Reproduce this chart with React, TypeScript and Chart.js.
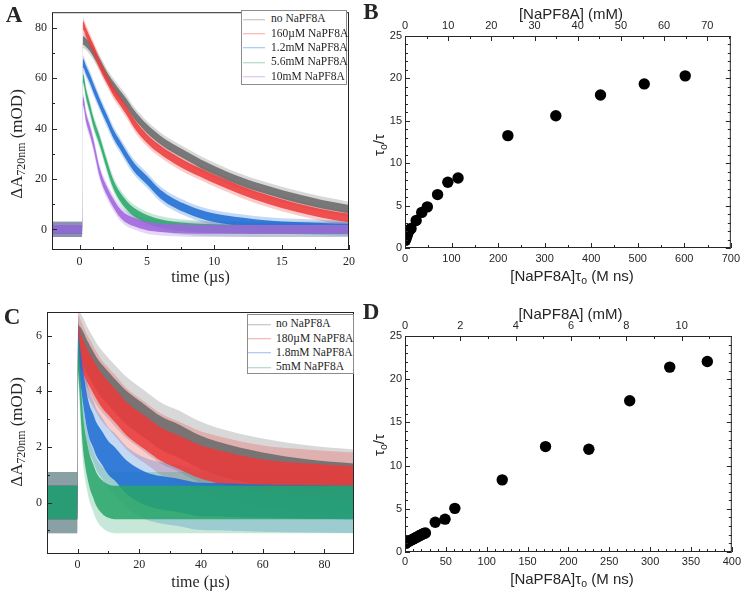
import React, { useEffect, useRef } from 'react';
import { Chart, registerables } from 'chart.js';

Chart.register(...registerables);

// ---------------- Panel A : transient absorption decays (mOD vs µs) ----------------
const A_TIME = [-2.1, -1, 0, 0.2, 0.25, 0.5, 0.75, 1, 1.5, 2, 2.5, 3, 3.5, 4, 5, 6, 7, 8, 9, 10, 12, 14, 16, 18, 20];
const A_NONE = [0, 0, 0, 0, 75, 74, 72.5, 70.5, 66, 61, 57, 53.5, 50, 46, 40, 35.5, 32, 29, 26, 23.5, 19, 15.5, 12.5, 10, 8];
const A_160UM = [0, 0, 0, 0, 81, 78, 75, 72, 65.5, 60, 55, 51, 47, 42.5, 36, 31.5, 28, 25, 22.5, 20, 15.5, 11.8, 8.8, 6.3, 4.5];
const A_1_2MM = [0, 0, 0, 0, 66, 63, 60, 56.5, 50, 44, 38, 33.5, 29, 25, 19.5, 14, 10.5, 8, 6, 4.6, 3, 1.8, 1.2, 0.8, 0.5];
const A_5_6MM = [0, 0, 0, 0, 60, 53.5, 48.5, 43, 35, 26, 18, 13, 9.5, 7, 4, 2.3, 1.3, 0.8, 0.5, 0.3, 0.1, 0, 0, 0, 0];
const A_10MM = [0, 0, 0, 0, 51, 44, 39.5, 34.5, 22.5, 15.5, 10.5, 6.5, 4.2, 3, 1.3, 0.6, 0.3, 0.1, 0, 0, 0, 0, 0, 0, 0];
const A_LABELS = ['no NaPF8A', '160µM NaPF8A', '1.2mM NaPF8A', '5.6mM NaPF8A', '10mM NaPF8A'];
const A_NOISE_INNER = 1.7; // half-width of dense noise band (mOD)
const A_NOISE_OUTER = 3.0; // half-width of noise spikes (mOD)
const A_X_TICKS = [0, 5, 10, 15, 20];
const A_Y_TICKS = [0, 20, 40, 60, 80];

// ---------------- Panel B : Stern-Volmer type plot ----------------
const B_X = [1, 2.5, 4, 5.5, 7, 9, 11, 13, 24, 36, 48, 70, 92, 114, 221, 324, 420, 514, 602];
const B_Y = [0.9, 1.2, 1.4, 1.7, 1.9, 2.1, 2.2, 2.3, 3.25, 4.2, 4.85, 6.3, 7.75, 8.25, 13.25, 15.6, 18.05, 19.35, 20.3];
const B_X_TICKS = [0, 100, 200, 300, 400, 500, 600, 700];
const B_TOP_TICKS = [0, 10, 20, 30, 40, 50, 60, 70];
const B_Y_TICKS = [0, 5, 10, 15, 20, 25];

// ---------------- Panel C : transient absorption decays ----------------
const C_TIME = [-10, -5, -0.1, 0.2, 0.6, 1, 1.5, 2, 3, 4, 5, 6, 8, 10, 12, 16, 22, 27, 33, 39, 45, 60, 75, 90];
const C_NONE = [0, 0, 0, 5.8, 5.75, 5.7, 5.6, 5.5, 5.25, 5.05, 4.85, 4.65, 4.35, 4.1, 3.85, 3.4, 2.9, 2.5, 2.2, 1.85, 1.6, 1.2, 0.95, 0.8];
const C_180UM = [0, 0, 0, 5.7, 5.6, 5.45, 5.35, 5.2, 4.95, 4.75, 4.55, 4.35, 4.0, 3.75, 3.5, 3.0, 2.5, 2.1, 1.8, 1.5, 1.3, 0.95, 0.8, 0.7];
const C_1_8MM = [0, 0, 0, 5.6, 5.2, 4.85, 4.4, 4.0, 3.3, 2.85, 2.6, 2.3, 1.95, 1.6, 1.4, 0.9, 0.5, 0.35, 0.25, 0.12, 0.1, 0.05, 0.02, 0];
const C_5MM = [0, 0, 0, 5.4, 4.7, 3.8, 2.9, 2.3, 1.6, 1.1, 0.8, 0.5, 0.2, 0.05, 0, 0, 0, 0, 0, 0, 0, 0, 0, 0];
const C_LABELS = ['no NaPF8A', '180µM NaPF8A', '1.8mM NaPF8A', '5mM NaPF8A'];
const C_NOISE_INNER = 0.6;
const C_NOISE_OUTER = 1.1;
const C_X_TICKS = [0, 20, 40, 60, 80];
const C_Y_TICKS = [0, 2, 4, 6];

// ---------------- Panel D ----------------
const D_X = [1, 3, 5, 7, 9, 11, 13, 15, 17, 19, 21, 23, 25, 37, 49, 61, 119, 172, 225, 275, 324, 370];
const D_Y = [1.0, 1.15, 1.25, 1.35, 1.45, 1.55, 1.65, 1.75, 1.85, 1.95, 2.05, 2.15, 2.2, 3.45, 3.8, 5.05, 8.35, 12.2, 11.9, 17.5, 21.4, 22.05];
const D_X_TICKS = [0, 50, 100, 150, 200, 250, 300, 350, 400];
const D_TOP_TICKS = [0, 2, 4, 6, 8, 10];
const D_Y_TICKS = [0, 5, 10, 15, 20, 25];

// colours
const GRAY = [105, 105, 105];
const RED = [238, 58, 58];
const BLUE = [28, 108, 212];
const GREEN = [40, 165, 105];
const PURPLE = [160, 100, 222];
const rgba = (c: number[], a: number) => `rgba(${c[0]},${c[1]},${c[2]},${a})`;

const SERIF = '"Liberation Serif", "Times New Roman", serif';
const SANS = '"Liberation Sans", Arial, sans-serif';
const INK = '#262626';

function bandSets(time: number[], mean: number[], col: number[], rank: number, inner: number, outer: number) {
  const mk = (off: number, fill: any, bg: string, order: number) => ({
    type: 'line',
    data: time.map((t, i) => ({ x: t, y: mean[i] + off })),
    borderColor: 'rgba(0,0,0,0)',
    borderWidth: 0,
    pointRadius: 0,
    fill,
    backgroundColor: bg,
    order,
    cubicInterpolationMode: 'monotone',
  });
  return [
    mk(outer, false, 'rgba(0,0,0,0)', 20 + rank),
    mk(-outer, '-1', rgba(col, 0.26), 20 + rank),
    mk(inner, false, 'rgba(0,0,0,0)', rank),
    mk(-inner, '-1', rgba(col, 0.86), rank),
  ];
}

type TickSpec = { axis: string; side: 'bottom' | 'top' | 'left' | 'right'; major: number[]; minor: number };

function makeTicksPlugin(specs: TickSpec[]) {
  return {
    id: 'innerTicks',
    afterDraw(chart: any) {
      const { ctx, chartArea: a } = chart;
      ctx.save();
      ctx.strokeStyle = INK;
      ctx.lineWidth = 1;
      ctx.beginPath();
      for (const s of specs) {
        const sc = chart.scales[s.axis];
        if (!sc) continue;
        const list: [number, number][] = s.major.map((v) => [v, 5] as [number, number]);
        const start = Math.ceil(sc.min / s.minor - 1e-9) * s.minor;
        for (let v = start; v <= sc.max + 1e-9; v += s.minor) {
          if (!s.major.some((m) => Math.abs(m - v) < 1e-6)) list.push([v, 3]);
        }
        for (const [v, len] of list) {
          if (v < sc.min - 1e-9 || v > sc.max + 1e-9) continue;
          const p = Math.round(sc.getPixelForValue(v)) + 0.5;
          if (s.side === 'bottom') { ctx.moveTo(p, a.bottom); ctx.lineTo(p, a.bottom - len); }
          if (s.side === 'top') { ctx.moveTo(p, a.top); ctx.lineTo(p, a.top + len); }
          if (s.side === 'left') { ctx.moveTo(a.left, p); ctx.lineTo(a.left + len, p); }
          if (s.side === 'right') { ctx.moveTo(a.right, p); ctx.lineTo(a.right - len, p); }
        }
      }
      ctx.stroke();
      ctx.restore();
    },
  };
}

const framePlugin = {
  id: 'frame',
  afterDraw(chart: any) {
    const { ctx, chartArea: a } = chart;
    ctx.save();
    ctx.strokeStyle = INK;
    ctx.lineWidth = 1;
    ctx.strokeRect(a.left + 0.5, a.top + 0.5, a.right - a.left - 1, a.bottom - a.top - 1);
    ctx.restore();
  },
};

function axis(opts: {
  position: string; min: number; max: number; ticks: number[]; size: number; horizontal: boolean;
  font: string; fontSize: number; padding: number; display?: boolean;
}) {
  return {
    type: 'linear',
    position: opts.position,
    min: opts.min,
    max: opts.max,
    grid: { display: false, drawTicks: false },
    border: { display: false },
    afterBuildTicks: (s: any) => { s.ticks = opts.ticks.map((v) => ({ value: v })); },
    afterFit: (s: any) => { if (opts.horizontal) s.height = opts.size; else s.width = opts.size; },
    ticks: {
      display: opts.display !== false,
      font: { family: opts.font, size: opts.fontSize },
      color: INK,
      padding: opts.padding,
      maxRotation: 0,
      autoSkip: false,
    },
  };
}

function decayConfig(p: {
  time: number[]; series: number[][]; colors: number[][]; inner: number; outer: number;
  xmin: number; xmax: number; ymin: number; ymax: number; xticks: number[]; yticks: number[];
  xMinor: number; yMinor: number; padTop: number; padRight: number; yWidth: number; xHeight: number; xPad: number; yPad: number;
}) {
  const datasets: any[] = [];
  const n = p.series.length;
  p.series.forEach((mean, i) => {
    // later series lie on top
    datasets.push(...bandSets(p.time, mean, p.colors[i], n - 1 - i, p.inner, p.outer));
  });
  return {
    type: 'line',
    data: { datasets },
    options: {
      responsive: false,
      animation: false,
      layout: { padding: { top: p.padTop, right: p.padRight, left: 0, bottom: 0 } },
      plugins: { legend: { display: false }, tooltip: { enabled: false } },
      scales: {
        x: axis({ position: 'bottom', min: p.xmin, max: p.xmax, ticks: p.xticks, size: p.xHeight, horizontal: true, font: SERIF, fontSize: 12, padding: p.xPad }),
        y: axis({ position: 'left', min: p.ymin, max: p.ymax, ticks: p.yticks, size: p.yWidth, horizontal: false, font: SERIF, fontSize: 12, padding: p.yPad }),
      },
    },
    plugins: [
      framePlugin,
      makeTicksPlugin([
        { axis: 'x', side: 'bottom', major: p.xticks, minor: p.xMinor },
        { axis: 'y', side: 'left', major: p.yticks, minor: p.yMinor },
      ]),
    ],
  };
}

function scatterConfig(p: {
  xs: number[]; ys: number[]; xmax: number; topMax: number; xticks: number[]; topTicks: number[]; yticks: number[];
  xMinor: number; topMinor: number; yMinor: number; topH: number; bottomH: number; leftW: number; padRight: number;
  xPad: number; topPad: number;
}) {
  return {
    type: 'scatter',
    data: {
      datasets: [{
        data: p.xs.map((x, i) => ({ x, y: p.ys[i] })),
        pointRadius: 5.7,
        pointBackgroundColor: '#000',
        pointBorderWidth: 0,
        xAxisID: 'x',
        yAxisID: 'y',
      }],
    },
    options: {
      responsive: false,
      animation: false,
      layout: { padding: { top: 0, right: p.padRight, left: 0, bottom: 0 } },
      plugins: { legend: { display: false }, tooltip: { enabled: false } },
      scales: {
        x: axis({ position: 'bottom', min: 0, max: p.xmax, ticks: p.xticks, size: p.bottomH, horizontal: true, font: SANS, fontSize: 11, padding: p.xPad }),
        x2: axis({ position: 'top', min: 0, max: p.topMax, ticks: p.topTicks, size: p.topH, horizontal: true, font: SANS, fontSize: 11, padding: p.topPad }),
        y: axis({ position: 'left', min: 0, max: 25, ticks: p.yticks, size: p.leftW, horizontal: false, font: SANS, fontSize: 11, padding: 3 }),
      },
    },
    plugins: [
      framePlugin,
      makeTicksPlugin([
        { axis: 'x', side: 'bottom', major: p.xticks, minor: p.xMinor },
        { axis: 'x2', side: 'top', major: p.topTicks, minor: p.topMinor },
        { axis: 'y', side: 'left', major: p.yticks, minor: p.yMinor },
        { axis: 'y', side: 'right', major: p.yticks, minor: p.yMinor },
      ]),
    ],
  };
}

function ChartBox({ left, top, width, height, make }: { left: number; top: number; width: number; height: number; make: () => any }) {
  const ref = useRef<HTMLCanvasElement>(null);
  useEffect(() => {
    const chart = new Chart(ref.current as HTMLCanvasElement, make());
    return () => chart.destroy();
  }, []);
  return (
    <canvas
      ref={ref}
      width={width}
      height={height}
      style={{ position: 'absolute', left, top, width, height, display: 'block' }}
    />
  );
}

function Txt({ x, y, size, family, rot, bold, children }: any) {
  return (
    <div
      style={{
        position: 'absolute',
        left: x,
        top: y,
        transform: `translate(-50%, -50%)${rot ? ' rotate(-90deg)' : ''}`,
        fontSize: size,
        fontFamily: family,
        fontWeight: bold ? 'bold' : 'normal',
        whiteSpace: 'nowrap',
        lineHeight: 1,
        color: INK,
      }}
    >
      {children}
    </div>
  );
}

function Legend({ left, top, width, height, labels, colors, first, step, lineLeft, lineW, gap }: any) {
  return (
    <div
      style={{
        position: 'absolute', left, top, width, height, boxSizing: 'border-box',
        border: '1px solid #8c8c8c', background: '#fff',
      }}
    >
      {labels.map((lab: string, i: number) => (
        <div
          key={i}
          style={{
            position: 'absolute', left: 0, top: first + i * step, transform: 'translateY(-50%)',
            display: 'flex', alignItems: 'center', whiteSpace: 'nowrap',
          }}
        >
          <span style={{ display: 'inline-block', marginLeft: lineLeft, width: lineW, height: 1, background: rgba(colors[i], 0.45) }} />
          <span style={{ marginLeft: gap, fontFamily: SERIF, fontSize: 11.5, color: INK, lineHeight: 1 }}>{lab}</span>
        </div>
      ))}
    </div>
  );
}

const subStyle: React.CSSProperties = { fontSize: '70%', verticalAlign: '-0.3em', lineHeight: 0 };

export default function App() {
  return (
    <div style={{ position: 'absolute', left: 0, top: 0, width: 744, height: 591, background: '#fff', overflow: 'hidden' }}>
      <ChartBox
        left={0} top={0} width={372} height={295}
        make={() => decayConfig({
          time: A_TIME,
          series: [A_NONE, A_160UM, A_1_2MM, A_5_6MM, A_10MM],
          colors: [GRAY, RED, BLUE, GREEN, PURPLE],
          inner: A_NOISE_INNER, outer: A_NOISE_OUTER,
          xmin: -2.05, xmax: 20, ymin: -8.2, ymax: 86.25, xticks: A_X_TICKS, yticks: A_Y_TICKS,
          xMinor: 2.5, yMinor: 10, padTop: 8, padRight: 23, yWidth: 52, xHeight: 45, xPad: 4.5, yPad: 5,
        })}
      />
      <ChartBox
        left={372} top={0} width={372} height={295}
        make={() => scatterConfig({
          xs: B_X, ys: B_Y, xmax: 700, topMax: 75.45, xticks: B_X_TICKS, topTicks: B_TOP_TICKS, yticks: B_Y_TICKS,
          xMinor: 50, topMinor: 5, yMinor: 1, topH: 36, bottomH: 47, leftW: 33, padRight: 11, xPad: 4, topPad: 3.4,
        })}
      />
      <ChartBox
        left={0} top={295} width={372} height={296}
        make={() => decayConfig({
          time: C_TIME,
          series: [C_NONE, C_180UM, C_1_8MM, C_5MM],
          colors: [GRAY, RED, BLUE, GREEN],
          inner: C_NOISE_INNER, outer: C_NOISE_OUTER,
          xmin: -9.9, xmax: 89.6, ymin: -1.85, ymax: 6.85, xticks: C_X_TICKS, yticks: C_Y_TICKS,
          xMinor: 10, yMinor: 1, padTop: 17, padRight: 18, yWidth: 47, xHeight: 37, xPad: 4, yPad: 5,
        })}
      />
      <ChartBox
        left={372} top={295} width={372} height={296}
        make={() => scatterConfig({
          xs: D_X, ys: D_Y, xmax: 400, topMax: 11.81, xticks: D_X_TICKS, topTicks: D_TOP_TICKS, yticks: D_Y_TICKS,
          xMinor: 10, topMinor: 1, yMinor: 1, topH: 41, bottomH: 39, leftW: 33, padRight: 12, xPad: 3, topPad: 3.4,
        })}
      />

      {/* Panel A texts */}
      <Txt x={14} y={14} size={23} family={SERIF} bold>A</Txt>
      <Txt x={200.5} y={277} size={16} family={SERIF}>time (µs)</Txt>
      <Txt x={15.5} y={144} size={17} family={SERIF} rot>ΔA<span style={subStyle}>720nm</span> (mOD)</Txt>
      <Legend left={241} top={10} width={106} height={75} labels={A_LABELS} colors={[GRAY, RED, BLUE, GREEN, PURPLE]}
        first={8.3} step={14.35} lineLeft={1} lineW={22} gap={6} />

      {/* Panel B texts */}
      <Txt x={371} y={11} size={23} family={SERIF} bold>B</Txt>
      <Txt x={571} y={13} size={15} family={SANS}>[NaPF8A] (mM)</Txt>
      <Txt x={572} y={275} size={15} family={SANS}>[NaPF8A]τ<span style={subStyle}>o</span> (M ns)</Txt>
      <Txt x={377.5} y={145} size={15} family={SANS} rot>τ<span style={subStyle}>o</span>/τ</Txt>

      {/* Panel C texts */}
      <Txt x={12} y={316} size={23} family={SERIF} bold>C</Txt>
      <Txt x={200.5} y={582} size={16} family={SERIF}>time (µs)</Txt>
      <Txt x={15.5} y={432} size={17} family={SERIF} rot>ΔA<span style={subStyle}>720nm</span> (mOD)</Txt>
      <Legend left={247} top={314} width={107} height={60} labels={C_LABELS} colors={[GRAY, RED, BLUE, GREEN]}
        first={9.3} step={14.35} lineLeft={0} lineW={23} gap={5} />

      {/* Panel D texts */}
      <Txt x={371} y={311} size={23} family={SERIF} bold>D</Txt>
      <Txt x={570.5} y={313} size={15} family={SANS}>[NaPF8A] (mM)</Txt>
      <Txt x={572} y={578} size={15} family={SANS}>[NaPF8A]τ<span style={subStyle}>o</span> (M ns)</Txt>
      <Txt x={377.5} y={445} size={15} family={SANS} rot>τ<span style={subStyle}>o</span>/τ</Txt>
    </div>
  );
}
